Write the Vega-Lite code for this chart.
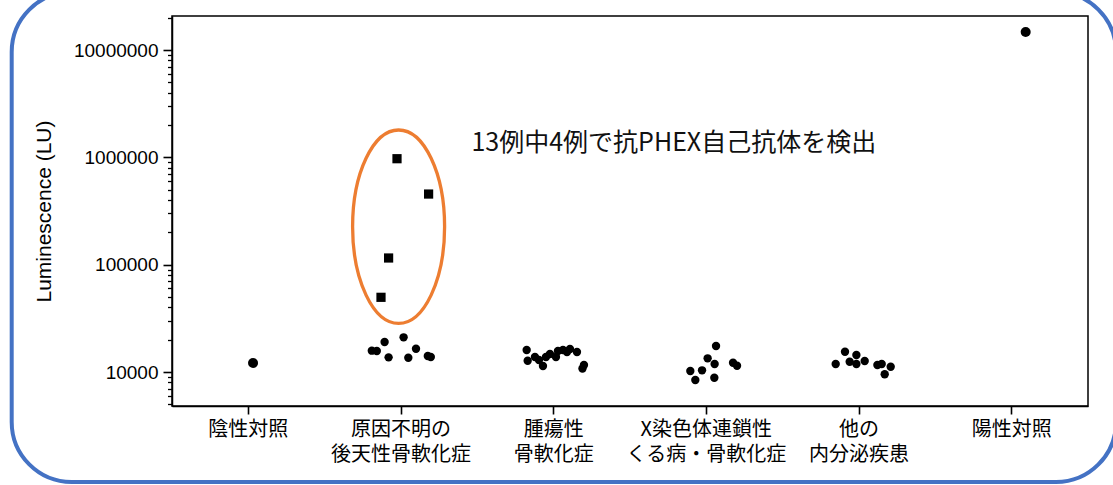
{
  "$schema": "https://vega.github.io/schema/vega-lite/v6.json",
  "width": 916,
  "height": 390,
  "autosize": {"type": "none"},
  "padding": {"left": 172, "top": 16, "right": 25, "bottom": 79},
  "background": "white",
  "config": {
    "view": {"stroke": "#000", "strokeWidth": 1.5},
    "font": "Liberation Sans"
  },
  "resolve": {"axis": {"y": "independent"}},
  "datasets": {
    "samples": [
      {"group": "陰性対照", "value": 12130, "jitter": 4.7, "result": "対照"},
      {"group": "原因不明の|後天性骨軟化症", "value": 15800, "jitter": -29.2, "result": "未検出"},
      {"group": "原因不明の|後天性骨軟化症", "value": 15700, "jitter": -24.2, "result": "未検出"},
      {"group": "原因不明の|後天性骨軟化症", "value": 19030, "jitter": -16.4, "result": "未検出"},
      {"group": "原因不明の|後天性骨軟化症", "value": 13700, "jitter": -12.4, "result": "未検出"},
      {"group": "原因不明の|後天性骨軟化症", "value": 21050, "jitter": 2.6, "result": "未検出"},
      {"group": "原因不明の|後天性骨軟化症", "value": 13590, "jitter": 7.3, "result": "未検出"},
      {"group": "原因不明の|後天性骨軟化症", "value": 16480, "jitter": 15.0, "result": "未検出"},
      {"group": "原因不明の|後天性骨軟化症", "value": 14090, "jitter": 26.8, "result": "未検出"},
      {"group": "原因不明の|後天性骨軟化症", "value": 13800, "jitter": 29.8, "result": "未検出"},
      {"group": "原因不明の|後天性骨軟化症", "value": 971000, "jitter": -4.0, "result": "検出"},
      {"group": "原因不明の|後天性骨軟化症", "value": 455000, "jitter": 27.6, "result": "検出"},
      {"group": "原因不明の|後天性骨軟化症", "value": 115400, "jitter": -12.4, "result": "検出"},
      {"group": "原因不明の|後天性骨軟化症", "value": 49650, "jitter": -20.0, "result": "検出"},
      {"group": "腫瘍性|骨軟化症", "value": 16030, "jitter": -27.0, "result": "未検出"},
      {"group": "腫瘍性|骨軟化症", "value": 12740, "jitter": -26.0, "result": "未検出"},
      {"group": "腫瘍性|骨軟化症", "value": 13800, "jitter": -18.7, "result": "未検出"},
      {"group": "腫瘍性|骨軟化症", "value": 12940, "jitter": -14.7, "result": "未検出"},
      {"group": "腫瘍性|骨軟化症", "value": 11370, "jitter": -10.7, "result": "未検出"},
      {"group": "腫瘍性|骨軟化症", "value": 13800, "jitter": -7.7, "result": "未検出"},
      {"group": "腫瘍性|骨軟化症", "value": 14710, "jitter": -3.7, "result": "未検出"},
      {"group": "腫瘍性|骨軟化症", "value": 13800, "jitter": 2.3, "result": "未検出"},
      {"group": "腫瘍性|骨軟化症", "value": 15690, "jitter": 4.3, "result": "未検出"},
      {"group": "腫瘍性|骨軟化症", "value": 16030, "jitter": 9.3, "result": "未検出"},
      {"group": "腫瘍性|骨軟化症", "value": 15360, "jitter": 13.3, "result": "未検出"},
      {"group": "腫瘍性|骨軟化症", "value": 16380, "jitter": 16.3, "result": "未検出"},
      {"group": "腫瘍性|骨軟化症", "value": 15360, "jitter": 23.3, "result": "未検出"},
      {"group": "腫瘍性|骨軟化症", "value": 11620, "jitter": 30.3, "result": "未検出"},
      {"group": "腫瘍性|骨軟化症", "value": 10780, "jitter": 28.8, "result": "未検出"},
      {"group": "X染色体連鎖性|くる病・骨軟化症", "value": 17470, "jitter": 9.7, "result": "未検出"},
      {"group": "X染色体連鎖性|くる病・骨軟化症", "value": 13410, "jitter": 1.3, "result": "未検出"},
      {"group": "X染色体連鎖性|くる病・骨軟化症", "value": 11870, "jitter": 8.3, "result": "未検出"},
      {"group": "X染色体連鎖性|くる病・骨軟化症", "value": 12210, "jitter": 26.7, "result": "未検出"},
      {"group": "X染色体連鎖性|くる病・骨軟化症", "value": 11440, "jitter": 30.7, "result": "未検出"},
      {"group": "X染色体連鎖性|くる病・骨軟化症", "value": 10220, "jitter": -16.0, "result": "未検出"},
      {"group": "X染色体連鎖性|くる病・骨軟化症", "value": 10370, "jitter": -4.3, "result": "未検出"},
      {"group": "X染色体連鎖性|くる病・骨軟化症", "value": 8420, "jitter": -11.0, "result": "未検出"},
      {"group": "X染色体連鎖性|くる病・骨軟化症", "value": 8850, "jitter": 8.0, "result": "未検出"},
      {"group": "他の|内分泌疾患", "value": 11870, "jitter": -23.3, "result": "未検出"},
      {"group": "他の|内分泌疾患", "value": 15460, "jitter": -14.0, "result": "未検出"},
      {"group": "他の|内分泌疾患", "value": 12470, "jitter": -9.3, "result": "未検出"},
      {"group": "他の|内分泌疾患", "value": 14400, "jitter": -2.6, "result": "未検出"},
      {"group": "他の|内分泌疾患", "value": 11870, "jitter": -2.6, "result": "未検出"},
      {"group": "他の|内分泌疾患", "value": 12660, "jitter": 5.7, "result": "未検出"},
      {"group": "他の|内分泌疾患", "value": 11620, "jitter": 18.4, "result": "未検出"},
      {"group": "他の|内分泌疾患", "value": 11870, "jitter": 22.7, "result": "未検出"},
      {"group": "他の|内分泌疾患", "value": 11200, "jitter": 31.7, "result": "未検出"},
      {"group": "他の|内分泌疾患", "value": 9520, "jitter": 25.7, "result": "未検出"},
      {"group": "陽性対照", "value": 14720000, "jitter": 14.0, "result": "対照"}
    ]
  },
  "layer": [
    {
      "data": {"values": [{}]},
      "mark": {
        "type": "point",
        "shape": "M -481.97 -272.66 L 502.33 -272.66 A 60 60 0 0 1 562.33 -212.66 L 562.33 157.34 A 60 60 0 0 1 502.33 217.34 L -481.97 217.34 A 60 60 0 0 1 -541.97 157.34 L -541.97 -212.66 A 60 60 0 0 1 -481.97 -272.66 Z",
        "size": 4,
        "filled": false,
        "color": "#4472C4",
        "strokeWidth": 4,
        "opacity": 1,
        "clip": false
      },
      "encoding": {
        "x": {"datum": "腫瘍性|骨軟化症", "type": "nominal"},
        "y": {"datum": 100000, "type": "quantitative", "axis": null}
      }
    },
    {
      "data": {"values": [{}]},
      "mark": {
        "type": "point",
        "shape": "M -2.4 -96.7 A 46 96.7 0 1 1 -2.4 96.7 A 46 96.7 0 1 1 -2.4 -96.7 Z",
        "size": 4,
        "filled": false,
        "color": "#ED7D31",
        "strokeWidth": 3.3,
        "opacity": 1
      },
      "encoding": {
        "x": {"datum": "原因不明の|後天性骨軟化症", "type": "nominal"},
        "y": {
          "datum": 225800,
          "type": "quantitative",
          "axis": {
            "orient": "left",
            "title": null,
            "labels": false,
            "domain": false,
            "grid": false,
            "ticks": true,
            "tickSize": 4.5,
            "tickWidth": 1.3,
            "tickColor": "#000",
            "values": [5000, 6000, 7000, 8000, 9000, 20000, 30000, 40000, 50000, 60000, 70000, 80000, 90000, 200000, 300000, 400000, 500000, 600000, 700000, 800000, 900000, 2000000, 3000000, 4000000, 5000000, 6000000, 7000000, 8000000, 9000000, 20000000]
          }
        }
      }
    },
    {
      "data": {"values": [{"note": "13例中4例で抗PHEX自己抗体を検出"}]},
      "mark": {
        "type": "text",
        "font": "Noto Sans CJK JP",
        "fontSize": 25,
        "color": "#111",
        "align": "center",
        "baseline": "middle"
      },
      "encoding": {
        "x": {"datum": "X染色体連鎖性|くる病・骨軟化症", "type": "nominal"},
        "xOffset": {"datum": -32.5, "type": "quantitative"},
        "y": {"datum": 1360000, "type": "quantitative", "axis": null},
        "text": {"field": "note", "type": "nominal"}
      }
    },
    {
      "data": {"name": "samples"},
      "mark": {"type": "point", "filled": true, "opacity": 1, "color": "#000"},
      "encoding": {
        "x": {
          "field": "group",
          "type": "nominal",
          "scale": {
            "type": "band",
            "paddingInner": 0,
            "paddingOuter": 0,
            "domain": ["陰性対照", "原因不明の|後天性骨軟化症", "腫瘍性|骨軟化症", "X染色体連鎖性|くる病・骨軟化症", "他の|内分泌疾患", "陽性対照"]
          },
          "axis": {
            "title": null,
            "labelExpr": "split(datum.label, '|')",
            "labelFont": "Noto Sans CJK JP",
            "labelFontSize": 20,
            "labelLineHeight": 25,
            "labelAngle": 0,
            "labelAlign": "center",
            "labelBaseline": "top",
            "labelColor": "#000",
            "tickSize": 8,
            "tickColor": "#000",
            "tickWidth": 1.6,
            "labelPadding": 5,
            "bandPosition": 0.5,
            "domainColor": "#000",
            "domainWidth": 1.5,
            "grid": false
          }
        },
        "xOffset": {
          "field": "jitter",
          "type": "quantitative",
          "scale": {"domain": [-76.33, 76.33]}
        },
        "y": {
          "field": "value",
          "type": "quantitative",
          "scale": {"type": "log", "domain": [4823, 20740000], "nice": false},
          "axis": {
            "orient": "left",
            "title": "Luminescence (LU)",
            "titleFont": "Liberation Sans",
            "titleFontSize": 21,
            "titleFontWeight": "normal",
            "titleColor": "#000",
            "titlePadding": 19,
            "values": [10000, 100000, 1000000, 10000000],
            "format": "d",
            "labelFont": "Liberation Sans",
            "labelFontSize": 19,
            "labelColor": "#000",
            "labelPadding": 5,
            "ticks": true,
            "tickSize": 9,
            "tickColor": "#000",
            "tickWidth": 1.6,
            "domainColor": "#000",
            "domainWidth": 1.5,
            "grid": false
          }
        },
        "shape": {
          "field": "result",
          "type": "nominal",
          "scale": {"domain": ["未検出", "検出", "対照"], "range": ["circle", "square", "circle"]},
          "legend": null
        },
        "size": {
          "field": "result",
          "type": "ordinal",
          "scale": {"domain": ["未検出", "検出", "対照"], "range": [70, 100, 70]},
          "legend": null
        }
      }
    }
  ]
}
